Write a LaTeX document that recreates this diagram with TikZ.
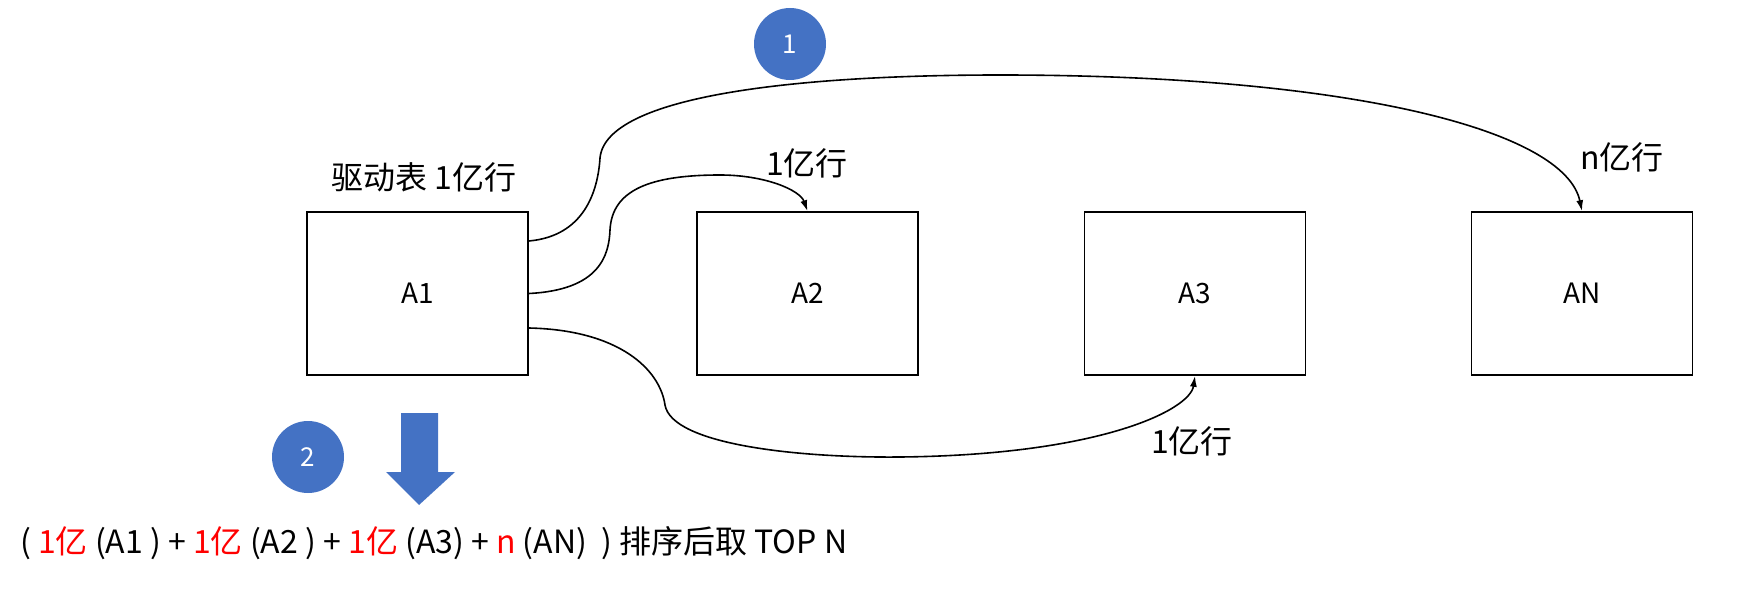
\documentclass[tikz,border=0pt]{standalone}
\usepackage{fontspec}
\setmainfont{Noto Sans CJK SC}
\usetikzlibrary{arrows.meta}
\definecolor{officeblue}{HTML}{4472C4}
\definecolor{myred}{HTML}{FF0000}
\tikzset{
  tbl/.style={draw=black, line width=1.6pt, minimum width=221pt, minimum height=163pt, inner sep=0pt, font=\fontsize{28}{32}\selectfont},
  lbl/.style={font=\fontsize{32}{36}\selectfont, inner sep=0pt},
  badge/.style={circle, fill=officeblue, minimum size=72pt, inner sep=0pt, text=white, font=\fontsize{26}{30}\selectfont},
  conn/.style={line width=1.6pt, -{Latex[length=11pt,width=7pt]}}
}
\begin{document}
\begin{tikzpicture}[x=1pt,y=-1pt]
\useasboundingbox (0,0) rectangle (1739,596);
% tables
\node[tbl] (A1) at (417.5,293.5) {A1};
\node[tbl] (A2) at (807.5,293.5) {A2};
\node[tbl] (A3) at (1195,293.5) {A3};
\node[tbl] (AN) at (1582,293.5) {AN};
% labels
\node[lbl] (drv) at (424,177) {驱动表 1亿行};
\node[lbl] (l2) at (807,163) {1亿行};
\node[lbl] (ln) at (1622,157) {n亿行};
\node[lbl] (l3) at (1192,441) {1亿行};
% badges
\node[badge] (b1) at (790,44) {1};
\node[badge] (b2) at (308,457) {2};
% connectors
\coordinate (s1) at ([yshift=52.5pt]A1.east);
\coordinate (s2) at (A1.east);
\coordinate (s3) at ([yshift=-34.5pt]A1.east);
\draw[conn] (s1) .. controls (585,236) and (598,190) .. (600,158)
  .. controls (606,95) and (800,75) .. (1000,75)
  .. controls (1350,75) and (1565,130) .. (AN.north);
\draw[conn] (s2) .. controls (600,290) and (609,255) .. (610,230)
  .. controls (612,190) and (650,175) .. (720,175)
  .. controls (765,175) and (800,190) .. (A2.north);
\draw[conn] (s3) .. controls (620,330) and (660,370) .. (665,405)
  .. controls (672,445) and (800,458) .. (900,457)
  .. controls (1100,455) and (1190,410) .. (A3.south);
% big down arrow
\fill[officeblue] (401,413) -- (438,413) -- (438,472) -- (455,472) -- (419,505) -- (386,472) -- (401,472) -- cycle;
% bottom formula
\node[lbl, anchor=west] (formula) at (20,543) {( \textcolor{myred}{1亿} (A1 ) + \textcolor{myred}{1亿} (A2 ) + \textcolor{myred}{1亿} (A3) + \textcolor{myred}{n} (AN)\ \ ) 排序后取 TOP N};
\end{tikzpicture}
\end{document}
